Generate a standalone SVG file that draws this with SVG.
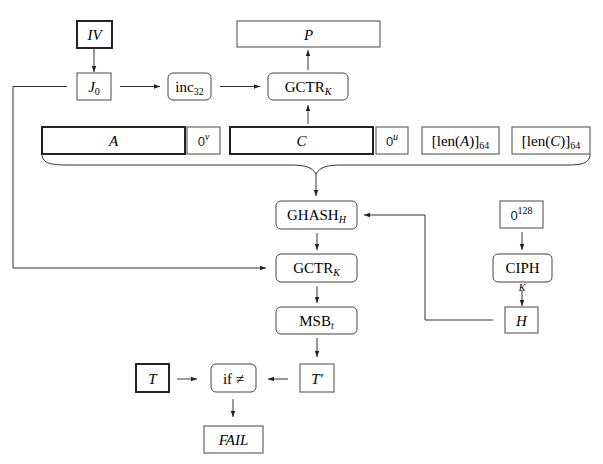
<svg xmlns="http://www.w3.org/2000/svg" width="603" height="464" viewBox="0 0 603 464">
<defs>
<marker id="ah" viewBox="0 0 8 8" refX="8" refY="4" markerWidth="6" markerHeight="6" orient="auto" markerUnits="userSpaceOnUse">
<path d="M0,1 L8,4 L0,7 Z" fill="#222"/>
</marker>
</defs>
<style>
.thin{fill:#fff;stroke:#666;stroke-width:1.2}
.thick{fill:#fff;stroke:#222;stroke-width:2}
.rnd{fill:#fff;stroke:#444;stroke-width:1}
.t{font-family:"Liberation Serif","Times New Roman",serif;font-size:15px;fill:#000;text-anchor:middle}
.i{font-style:italic}
.s{font-size:10px}
.z{font-family:"Liberation Sans",sans-serif;font-size:13px;fill:#222}
.c{fill:none;stroke:#333;stroke-width:1}
.ca{fill:none;stroke:#333;stroke-width:1;marker-end:url(#ah)}
</style>
<rect width="603" height="464" fill="#fff"/>
<g id="connectors">
<path class="ca" d="M94,49 V72"/>
<path class="ca" d="M120,86.5 H160"/>
<path class="ca" d="M220,86.5 H260"/>
<path class="ca" d="M308,70 V50"/>
<path class="ca" d="M308,124 V105"/>
<path class="ca" d="M67,86.5 H13 V268 H266"/>
<path class="c" d="M42,154 C42,162 48,165 66,165 L290,165 C305,165 312,167 316,174 C320,167 327,165 342,165 L568,165 C584,165 590,162 590,154"/>
<path class="ca" d="M316,174 V196"/>
<path class="ca" d="M317,233 V250"/>
<path class="ca" d="M317,286 V303"/>
<path class="ca" d="M317,338 V357"/>
<path class="ca" d="M522,232 V250"/>
<path class="ca" d="M522,290 V306"/>
<path class="ca" d="M493,320 H425 V215 H364"/>
<path class="ca" d="M177,379 H197"/>
<path class="ca" d="M288,379 H268"/>
<path class="ca" d="M233,399 V417"/>
</g>
<g id="IV"><rect class="thick" x="77" y="21" width="35" height="27"/><text class="t i" x="94.5" y="39.5">IV</text></g>
<g id="J0"><rect class="thin" x="77" y="73" width="34" height="27"/><text class="t" x="94" y="91.5"><tspan class="i">J</tspan><tspan class="s" dy="3">0</tspan></text></g>
<g id="inc32"><rect class="rnd" x="168" y="73" width="43" height="27" rx="5"/><text class="t" x="189.5" y="91.5">inc<tspan class="s" dy="3">32</tspan></text></g>
<g id="GCTR1"><rect class="rnd" x="268" y="73" width="80" height="27" rx="5"/><text class="t" x="308" y="91.5">GCTR<tspan class="s i" dy="3">K</tspan></text></g>
<g id="P"><rect class="thin" x="237" y="21" width="143" height="26"/><text class="t i" x="308.5" y="39.5">P</text></g>
<g id="A"><rect class="thick" x="42" y="127" width="143" height="27"/><text class="t i" x="113.5" y="145.5">A</text></g>
<g id="zero_v"><rect class="thin" x="187" y="127" width="33" height="27"/><text class="t" x="203.5" y="145.5"><tspan class="z">0</tspan><tspan class="s i" dy="-6">v</tspan></text></g>
<g id="C"><rect class="thick" x="230" y="127" width="143" height="27"/><text class="t i" x="301.5" y="145.5">C</text></g>
<g id="zero_u"><rect class="thin" x="376" y="127" width="32" height="27"/><text class="t" x="392" y="145.5"><tspan class="z">0</tspan><tspan class="s i" dy="-6">u</tspan></text></g>
<g id="lenA"><rect class="thin" x="422" y="127" width="77" height="27"/><text class="t" x="460.5" y="145.5">[len(<tspan class="i">A</tspan>)]<tspan class="s" dy="3">64</tspan></text></g>
<g id="lenC"><rect class="thin" x="512" y="127" width="78" height="27"/><text class="t" x="551" y="145.5">[len(<tspan class="i">C</tspan>)]<tspan class="s" dy="3">64</tspan></text></g>
<g id="GHASH"><rect class="rnd" x="276" y="201" width="81" height="28" rx="5"/><text class="t" x="316.5" y="219.5">GHASH<tspan class="s i" dy="3">H</tspan></text></g>
<g id="GCTR2"><rect class="rnd" x="276" y="254" width="81" height="28" rx="5"/><text class="t" x="316.5" y="272.5">GCTR<tspan class="s i" dy="3">K</tspan></text></g>
<g id="MSB"><rect class="rnd" x="276" y="307" width="81" height="27" rx="5"/><text class="t" x="316.5" y="325.5">MSB<tspan class="s i" dy="3">t</tspan></text></g>
<g id="zero128"><rect class="thin" x="500" y="201" width="43" height="27"/><text class="t" x="521.5" y="219.5"><tspan class="z">0</tspan><tspan class="s" dy="-6">128</tspan></text></g>
<g id="CIPH"><rect class="rnd" x="493" y="254" width="59" height="28" rx="5"/><text class="t" x="522.5" y="272.5">CIPH</text></g>
<text class="t i s" x="522" y="291">K</text>
<g id="H"><rect class="thin" x="505" y="307" width="33" height="26"/><text class="t i" x="521.5" y="325.5">H</text></g>
<g id="Tprime"><rect class="thin" x="300" y="364" width="34" height="28"/><text class="t i" x="317" y="383.5">T′</text></g>
<g id="if"><rect class="rnd" x="211" y="364" width="45" height="28" rx="5"/><text class="t" x="233.5" y="383.5">if ≠</text></g>
<g id="T"><rect class="thick" x="136" y="364" width="33" height="28"/><text class="t i" x="152.5" y="383.5">T</text></g>
<g id="FAIL"><rect class="thin" x="204" y="426" width="59" height="27"/><text class="t i" x="233.5" y="444.5">FAIL</text></g>
</svg>
